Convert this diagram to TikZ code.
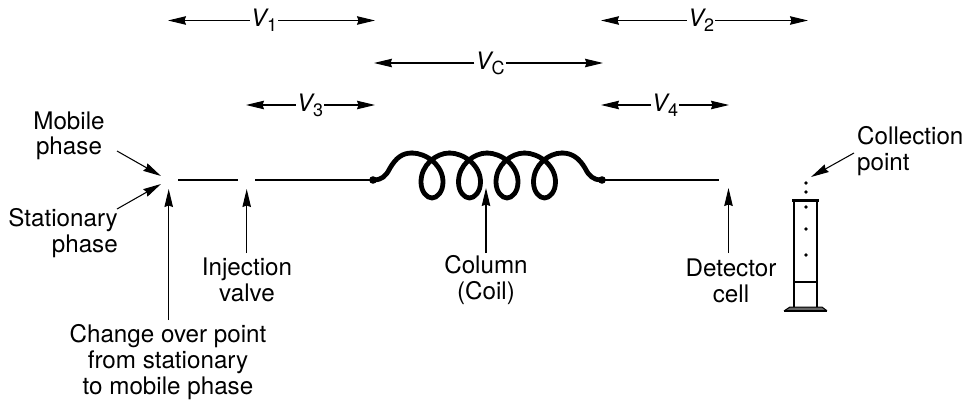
\documentclass[tikz,border=0pt]{standalone}
\usepackage{fontspec}
\setmainfont{TeX Gyre Heros}
\usetikzlibrary{arrows.meta}
\newcommand{\Vlab}[1]{{\itshape V}\raisebox{-5pt}{\fontsize{18}{18}\selectfont #1}}
\tikzset{
  lab/.style={font=\fontsize{24.2}{25.6}\selectfont,align=center,inner sep=0pt},
  vlab/.style={font=\fontsize{24}{24}\selectfont,inner sep=1pt},
  arr/.style={-{Stealth[length=18pt,width=8.5pt,inset=1.5pt]},line width=1.05pt},
  pipe/.style={line width=1.05pt},
  coil/.style={line width=4.8pt,line cap=round,line join=round},
  glass/.style={line width=1.1pt},
  drop/.style={circle,fill=black,inner sep=0pt,minimum size=3.6pt}
}
\begin{document}
\begin{tikzpicture}[x=1pt,y=-1pt]
\useasboundingbox (0,0) rectangle (964,399);
% V labels
\node[vlab] (v1) at (264,20.5) {\Vlab{1}};
\coordinate (v1a) at (168,21); \coordinate (v1b) at (375,21);
\draw[arr] (v1) -- (v1a |- v1); \draw[arr] (v1) -- (v1b |- v1);
\node[vlab] (v2) at (701,20.5) {\Vlab{2}};
\coordinate (v2a) at (601,21); \coordinate (v2b) at (808,21);
\draw[arr] (v2) -- (v2a |- v2); \draw[arr] (v2) -- (v2b |- v2);
\node[vlab] (vc) at (490,63) {\Vlab{C}};
\coordinate (vca) at (374,64); \coordinate (vcb) at (603,64);
\draw[arr] (vc) -- (vca |- vc); \draw[arr] (vc) -- (vcb |- vc);
\node[vlab] (v3) at (310,105) {\Vlab{3}};
\coordinate (v3a) at (246,105); \coordinate (v3b) at (375,105);
\draw[arr] (v3) -- (v3a |- v3); \draw[arr] (v3) -- (v3b |- v3);
\node[vlab] (v4) at (665,105) {\Vlab{4}};
\coordinate (v4a) at (601,105); \coordinate (v4b) at (729,105);
\draw[arr] (v4) -- (v4a |- v4); \draw[arr] (v4) -- (v4b |- v4);
% pipes
\coordinate (p1) at (178,180); \coordinate (p2) at (238,180);
\coordinate (p3) at (255,180); \coordinate (c1) at (373,180);
\coordinate (c2) at (602,180); \coordinate (p4) at (719,180);
\draw[pipe] (p1) -- (p2);
\draw[pipe] (p3) -- (c1);
\draw[pipe] (c2) -- (p4);
% coil
\draw[coil] (c1) .. controls (382,180) and (386,176) .. (390,168)
  .. controls (396,158) and (402,153) .. (412,153);
\foreach \d in {0,37.5,75,112.5}{
  \draw[coil,xshift=\d pt] (412,153)
    .. controls (426,153) and (443,165) .. (443,182)
    .. controls (443,192) and (437,198) .. (432,198)
    .. controls (427,198) and (421,192) .. (421,182)
    .. controls (421,165) and (436,153) .. (449.5,153);
}
\draw[coil] (562,153) .. controls (572,153) and (579,158) .. (585,168)
  .. controls (589,176) and (593,180) .. (c2);
\fill (c1) circle (3.8pt);
\fill (c2) circle (3.8pt);
% labels
\node[lab] (mob) at (69,136) {Mobile\\phase};
\node[lab,align=right,anchor=east] (sta) at (118,233) {Stationary\\phase};
\node[lab] (inj) at (247,280) {Injection\\valve};
\node[lab] (col) at (486,280) {Column\\(Coil)};
\node[lab] (det) at (731,281) {Detector\\cell};
\node[lab] (chg) at (168,362) {Change over point\\from stationary\\to mobile phase};
\node[lab,align=left,anchor=west] (colp) at (857,151) {Collection\\point};
% arrows to the line
\coordinate (m1) at (117,151); \coordinate (m2) at (161,176);
\coordinate (s1) at (117,209); \coordinate (s2) at (161,184);
\draw[arr] (m1) -- (m2);
\draw[arr] (s1) -- (s2);
\coordinate (chgT) at (168.7,189); \coordinate (chgB) at (168.7,320); \draw[arr] (chgB) -- (chgT);
\coordinate (injT) at (246.7,189); \coordinate (injB) at (246.7,253); \draw[arr] (injB) -- (injT);
\coordinate (colT) at (486,188); \coordinate (colB) at (486,253); \draw[arr] (colB) -- (colT);
\coordinate (detT) at (728.5,188); \coordinate (detB) at (728.5,253); \draw[arr] (detB) -- (detT);
\coordinate (cp1) at (854,153); \coordinate (cp2) at (811,177);
\draw[arr] (cp1) -- (cp2);
% cylinder
\coordinate (w1) at (794,200); \coordinate (w2) at (817,200);
\coordinate (w3) at (794,308); \coordinate (w4) at (817,308);
\coordinate (l1) at (794,282); \coordinate (l2) at (817,282);
\draw[glass,line width=1.5pt] (w1) -- (w3);
\draw[glass,line width=1.5pt] (w2) -- (w4);
\draw[glass] (l1) -- (l2);
\draw[line width=2.4pt] (792,200.5) -- (819,200.5);
\fill[black!60] (790,307) -- (822,307) -- (827,310) -- (785,310) -- cycle;
\draw[line width=1.4pt] (784,311) -- (827,311);
\draw[line width=1pt] (784,311) -- (790,307) -- (822,307) -- (827,311);
\foreach \y/\n in {183/a,192/b,207/c,229/d,255/e}{
  \node[drop] (d\n) at (806,\y) {};
}
\end{tikzpicture}
\end{document}
